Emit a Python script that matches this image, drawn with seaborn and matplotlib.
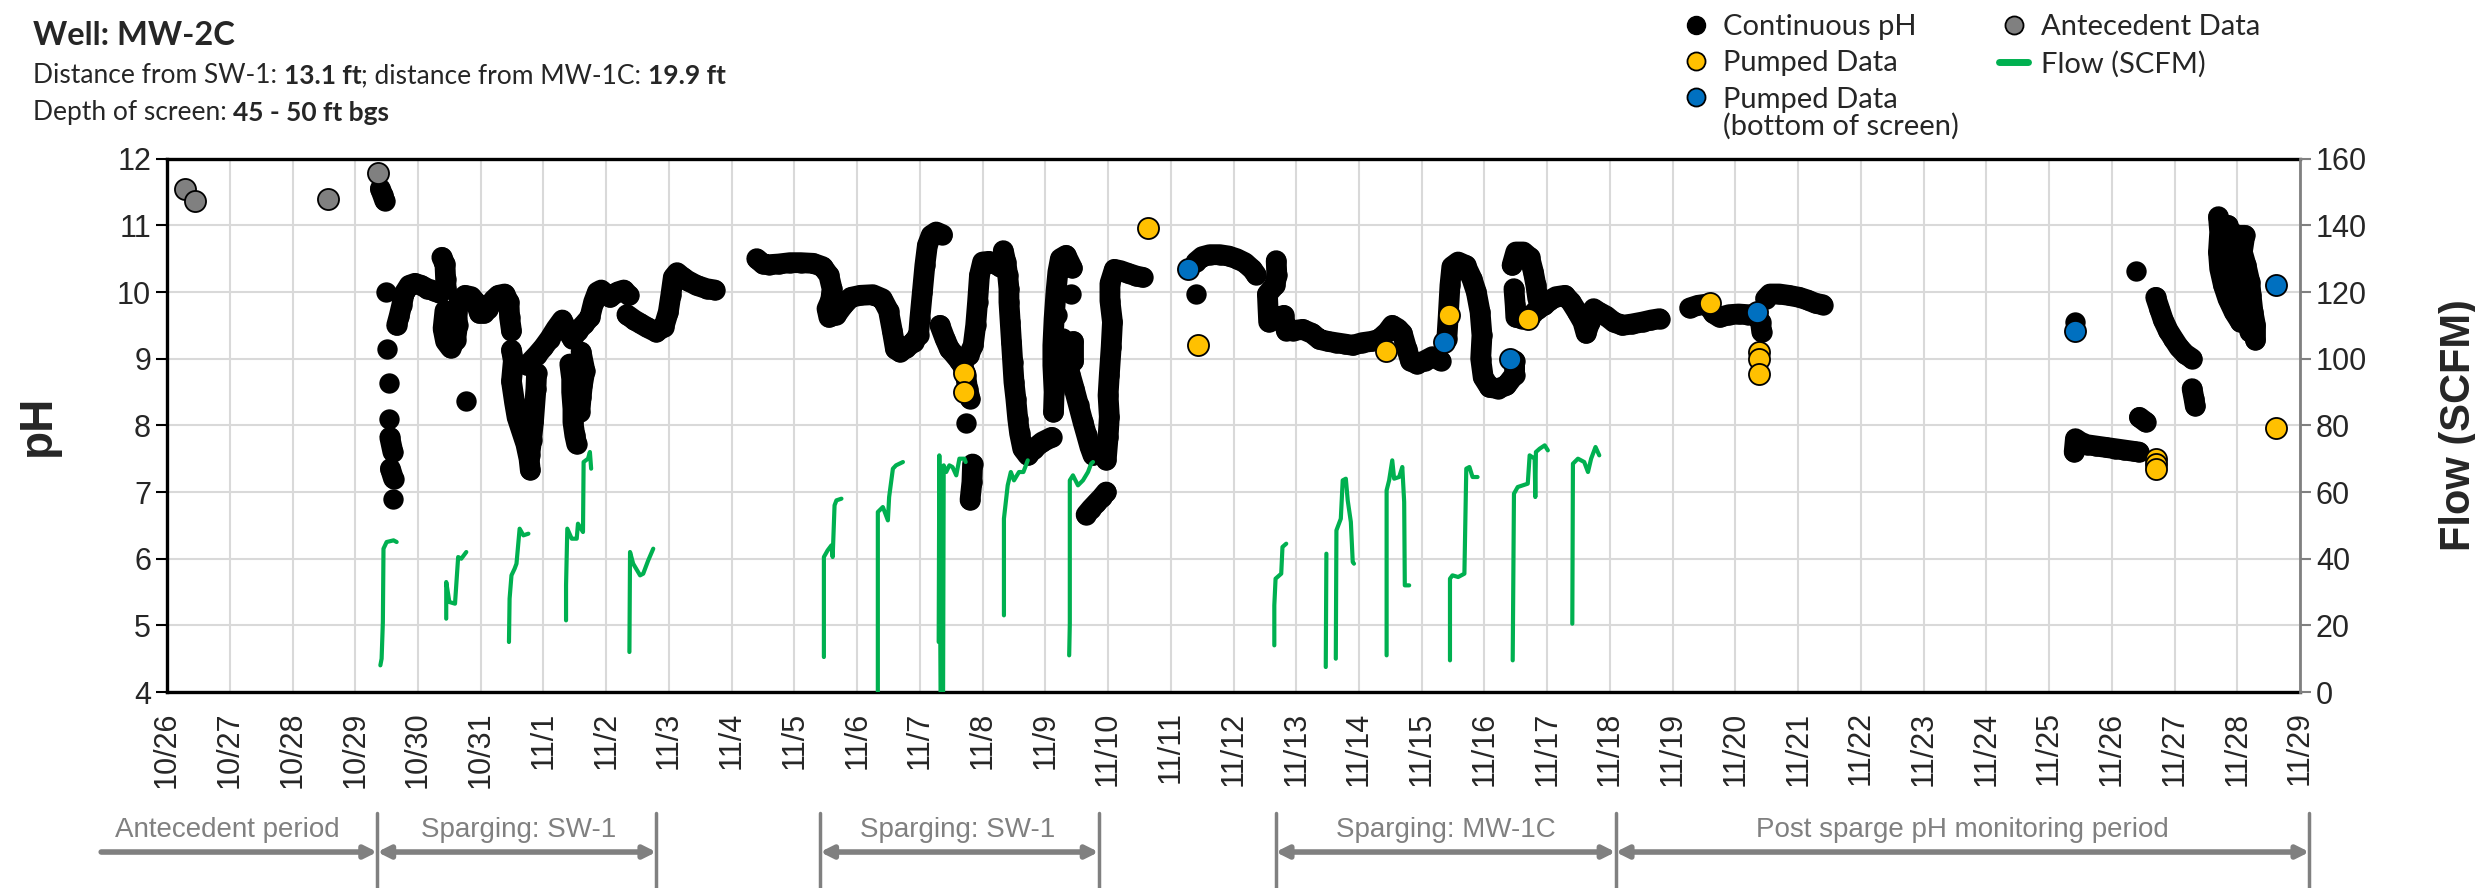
import numpy as np
import pandas as pd
import matplotlib
matplotlib.use("Agg")
import matplotlib.pyplot as plt
import matplotlib.dates as mdates
from matplotlib.lines import Line2D
from matplotlib.text import Annotation
from matplotlib.transforms import blended_transform_factory
import seaborn as sns

nan = np.nan
start = pd.Timestamp("2020-10-26")

# all x values are days after 10/26 00:00
ante_day = [0.29, 0.44, 2.57, 3.36]
ante_ph = [11.55, 11.36, 11.39, 11.78]

pump_day = [12.71, 12.71, 15.63, 16.44, 19.43, 20.43, 21.69, 24.60,
            25.38, 25.38, 25.38, 31.70, 31.70, 31.70, 33.62]
pump_ph = [8.79, 8.50, 10.96, 9.20, 9.12, 9.66, 9.60, 9.84,
           9.10, 9.00, 8.77, 7.50, 7.42, 7.34, 7.96]

bottom_day = [16.27, 20.36, 21.40, 25.35, 30.42, 33.61]
bottom_ph = [10.34, 9.25, 9.00, 9.70, 9.42, 10.10]

# continuous logger record, nan = gap in record
cont_day = [3.40, 3.44, 3.47, nan,
            3.49, nan, 3.50, nan, 3.53, nan, 3.54, nan, 3.55, 3.60, nan, 3.56, 3.61, nan, 3.60, nan,
            3.66, 3.70, 3.74, 3.78, 3.86, 3.95, 4.05, 4.15, 4.25, 4.35, nan,
            4.38, 4.43, 4.44, 4.45, nan,
            4.43, 4.40, 4.44, 4.52, 4.60, 4.63, 4.62, 4.66, 4.75, 4.85, 4.92, 4.98, 5.05, 5.12, 5.20, 5.28,
            5.38, 5.45, 5.46, 5.49, nan,
            4.77, nan,
            5.49, 5.52, 5.49, 5.54, 5.58, 5.65, 5.72, 5.77, 5.79, nan,
            5.89, 5.88, 5.84, 5.81, 5.78, nan,
            5.74, 5.82, 5.90, 6.00, 6.10, 6.20, 6.30, 6.38, 6.46, 6.55, 6.65, 6.74, 6.80, 6.86, 6.92, 7.06,
            7.18, 7.28, 7.36, nan,
            6.42, 6.45, 6.45, 6.47, 6.47, 6.50, 6.53, nan,
            6.60, 6.66, 6.62, 6.60, 6.58, nan,
            7.33, 7.45, 7.54, 7.65, 7.80, 7.92, 7.99, 8.03, 8.07, 8.13, 8.22, 8.30, 8.44, 8.60, 8.73, nan,
            9.40, 9.50, 9.60, 9.75, 9.93, 10.10, 10.30, 10.45, 10.55, 10.60, 10.58, 10.52, 10.55, 10.67,
            10.78, 10.90, 11.05, 11.25, 11.40, 11.50, 11.56, 11.61, 11.68, 11.78, 11.90, 11.98, 12.00,
            12.04, 12.08, 12.12, 12.18, 12.26, 12.36, nan,
            12.32, 12.40, 12.47, 12.56, 12.63, 12.68, 12.73, 12.76, 12.80, nan,
            12.73, nan,
            12.84, 12.83, 12.80, nan,
            12.66, 12.78, 12.85, 12.89, 12.92, 12.95, 13.00, 13.10, 13.20, 13.28, nan,
            13.33, 13.37, 13.40, 13.42, 13.42, 13.44, 13.46, 13.48, 13.50, 13.53, 13.56, 13.59, 13.64,
            13.72, 13.82, 13.95, 14.10, nan,
            14.13, 14.14, 14.12, 14.12, 14.14, 14.17, 14.20, 14.24, 14.33, 14.43, nan,
            14.41, nan, 14.19, nan,
            14.28, 14.33, 14.40, 14.46, 14.53, 14.60, 14.66, 14.71, 14.76, nan,
            14.44, 14.44, nan,
            14.97, 15.00, 15.02, 15.00, 15.02, 15.05, 15.07, 15.03, 15.03, 15.10, 15.20, 15.32, 15.45,
            15.55, nan,
            14.65, 14.73, 14.81, 14.90, 14.97, nan,
            16.40, nan,
            16.40, 16.50, 16.62, 16.78, 16.92, 17.05, 17.18, 17.30, 17.36, nan,
            17.68, 17.69, 17.66, 17.54, 17.55, 17.56, 17.68, 17.80, 17.84, 17.95, 18.10, 18.25, 18.37,
            18.50, 18.63, 18.77, 18.90, 19.05, 19.20, 19.32, 19.45, 19.53, 19.62, 19.69, 19.76, 19.82,
            19.92, 20.05, 20.17, 20.30, nan,
            20.40, 20.42, 20.45, 20.48, 20.58, 20.70, 20.80, 20.87, 20.93, 20.96, 20.94, 20.98, 21.08,
            21.22, 21.35, 21.48, 21.48, nan,
            21.44, 21.50, 21.62, 21.72, 21.78, 21.82, 21.85, nan,
            21.47, 21.49, 21.50, 21.60, 21.72, 21.85, 21.95, 22.05, 22.14, 22.28, 22.38, 22.48, 22.57,
            22.62, 22.68, 22.74, 22.82, 22.94, 23.06, 23.20, 23.35, 23.52, 23.66, 23.79, nan,
            24.27, 24.40, 24.55, 24.65, 24.75, 24.90, 25.05, 25.20, 25.33, 25.40, 25.42, nan,
            25.48, 25.55, 25.70, 25.85, 26.02, 26.15, 26.28, 26.39, nan,
            30.42, nan,
            30.40, 30.42, 30.50, 30.60, 30.75, 30.90, 31.05, 31.20, 31.35, 31.43, nan,
            31.44, 31.54, nan,
            31.39, nan,
            31.70, 31.76, 31.82, 31.90, 31.98, 32.07, 32.17, 32.28, nan,
            32.28, 32.31, 32.33, nan,
            32.70, 32.72, 32.70, 32.72, 32.78, 32.85, 32.95, 33.05, nan,
            32.90, 33.00, 33.12, 33.08, 33.14, 33.20, 33.22, 33.25, 33.29, 33.29, nan,
            32.78, 32.90, 32.98, 33.05, 33.10, 33.15, 33.20, nan,
            32.85, 32.95, 33.05, 33.15]
cont_ph = [11.55, 11.45, 11.37, nan,
           10.00, nan, 9.14, nan, 8.63, nan, 8.10, nan, 7.82, 7.60, nan, 7.35, 7.20, nan, 6.89, nan,
           9.50, 9.64, 9.80, 9.98, 10.10, 10.13, 10.10, 10.05, 10.02, 9.98, nan,
           10.52, 10.42, 10.20, 10.05, nan,
           9.72, 9.45, 9.26, 9.16, 9.28, 9.50, 9.70, 9.87, 9.95, 9.93, 9.85, 9.68, 9.68, 9.75, 9.88, 9.95,
           9.97, 9.85, 9.62, 9.42, nan,
           8.37, nan,
           9.13, 8.97, 8.66, 8.34, 8.12, 7.92, 7.72, 7.50, 7.33, nan,
           8.78, 8.55, 8.05, 7.78, 7.55, nan,
           8.90, 8.98, 9.06, 9.17, 9.30, 9.45, 9.58, 9.42, 9.30, 9.42, 9.52, 9.62, 9.85, 10.00, 10.03, 9.92,
           10.00, 10.03, 9.95, nan,
           8.92, 8.70, 8.50, 8.25, 8.05, 7.85, 7.72, nan,
           9.10, 8.82, 8.60, 8.42, 8.20, nan,
           9.66, 9.58, 9.53, 9.47, 9.40, 9.48, 9.70, 9.95, 10.22, 10.29, 10.22, 10.17, 10.10, 10.05, 10.03, nan,
           10.50, 10.42, 10.41, 10.42, 10.44, 10.44, 10.43, 10.38, 10.25, 10.05, 9.88, 9.75, 9.62, 9.66,
           9.80, 9.92, 9.95, 9.96, 9.90, 9.72, 9.42, 9.15, 9.10, 9.16, 9.25, 9.36, 9.60,
           10.00, 10.40, 10.70, 10.85, 10.90, 10.86, nan,
           9.50, 9.30, 9.15, 9.05, 8.97, 8.90, 8.75, 8.55, 8.40, nan,
           8.03, nan,
           7.42, 7.15, 6.88, nan,
           8.95, 9.05, 9.20, 9.50, 9.85, 10.25, 10.45, 10.46, 10.42, 10.38, nan,
           10.62, 10.45, 10.25, 10.05, 9.85, 9.55, 9.25, 8.95, 8.65, 8.40, 8.10, 7.88, 7.65,
           7.55, 7.65, 7.75, 7.82, nan,
           8.20, 8.50, 8.90, 9.20, 9.60, 10.00, 10.30, 10.50, 10.55, 10.36, nan,
           9.97, nan, 9.66, nan,
           9.30, 9.00, 8.75, 8.55, 8.30, 8.05, 7.85, 7.68, 7.55, nan,
           9.26, 8.97, nan,
           7.48, 7.82, 8.13, 8.45, 8.76, 9.18, 9.55, 9.87, 10.13, 10.34, 10.32, 10.28, 10.24,
           10.22, nan,
           6.66, 6.75, 6.83, 6.92, 7.00, nan,
           9.97, nan,
           10.45, 10.53, 10.56, 10.56, 10.54, 10.50, 10.44, 10.34, 10.26, nan,
           10.47, 10.25, 10.10, 9.97, 9.75, 9.55, 9.60, 9.65, 9.42, 9.42, 9.44, 9.38, 9.29,
           9.26, 9.24, 9.22, 9.20, 9.24, 9.26, 9.29, 9.40, 9.50, 9.45, 9.38, 9.15, 8.97,
           8.92, 8.97, 9.03, 8.97, nan,
           9.30, 9.60, 10.10, 10.38, 10.45, 10.40, 10.20, 10.00, 9.70, 9.35, 9.00, 8.72, 8.57,
           8.55, 8.60, 8.76, 8.97, nan,
           10.40, 10.60, 10.60, 10.52, 10.30, 10.10, 9.90, nan,
           10.05, 9.80, 9.62, 9.60, 9.62, 9.75, 9.80, 9.88, 9.93, 9.95, 9.85, 9.70, 9.55,
           9.38, 9.55, 9.75, 9.70, 9.64, 9.55, 9.50, 9.52, 9.55, 9.58, 9.60, nan,
           9.76, 9.80, 9.82, 9.68, 9.62, 9.66, 9.67, 9.66, 9.66, 9.55, 9.40, nan,
           9.90, 9.97, 9.97, 9.95, 9.92, 9.88, 9.83, 9.81, nan,
           9.55, nan,
           7.60, 7.80, 7.75, 7.71, 7.69, 7.67, 7.65, 7.63, 7.61, 7.60, nan,
           8.12, 8.05, nan,
           10.31, nan,
           9.92, 9.75, 9.58, 9.42, 9.30, 9.17, 9.07, 9.00, nan,
           8.55, 8.40, 8.29, nan,
           11.13, 10.90, 10.60, 10.35, 10.10, 9.90, 9.70, 9.55, nan,
           10.90, 10.85, 10.85, 10.60, 10.40, 10.15, 9.95, 9.70, 9.50, 9.28, nan,
           10.65, 10.40, 10.20, 10.00, 9.80, 9.60, 9.40, nan,
           11.00, 10.70, 10.45, 10.25]

# air sparge flow, SCFM
flow_day = [3.40, 3.42, 3.44, 3.45, 3.50, 3.61, 3.66, nan,
            4.45, 4.45, 4.50, 4.59, 4.64, 4.69, 4.77, nan,
            5.45, 5.46, 5.49, 5.54, 5.57, 5.62, 5.68, 5.76, nan,
            6.36, 6.36, 6.38, 6.45, 6.53, 6.55, 6.63, 6.64, 6.71, 6.74, 6.76, nan,
            7.37, 7.38, 7.43, 7.54, 7.59, 7.67, 7.75, nan,
            10.47, 10.47, 10.53, 10.59, 10.61, 10.64, 10.67, 10.75, nan,
            11.33, 11.33, 11.41, 11.49, 11.51, 11.57, 11.62, 11.73, nan,
            12.30, 12.31, 12.33, 12.37, 12.38, 12.42, 12.47, 12.52, 12.58, 12.63, 12.71, 12.73, nan,
            13.34, 13.34, 13.40, 13.45, 13.50, 13.58, 13.65, 13.72, nan,
            14.38, 14.39, 14.39, 14.44, 14.52, 14.60, 14.68, 14.73, 14.76, nan,
            17.65, 17.65, 17.67, 17.76, 17.78, 17.84, nan,
            18.47, 18.48, nan,
            18.63, 18.64, 18.71, 18.74, 18.79, 18.82, 18.87, 18.90, 18.92, nan,
            19.44, 19.44, 19.48, 19.53, 19.56, 19.64, 19.69, 19.72, 19.73, 19.80, nan,
            20.45, 20.45, 20.49, 20.58, 20.68, 20.71, 20.76, 20.81, 20.89, nan,
            21.45, 21.47, 21.53, 21.69, 21.72, 21.80, 21.81, 21.82, 21.88, 21.96, 22.01, nan,
            22.40, 22.41, 22.49, 22.59, 22.65, 22.70, 22.77, 22.83]
flow_cfm = [8, 10, 21, 43, 45, 45.5, 45, nan,
            22, 33, 27, 26.5, 40.5, 40, 42, nan,
            15, 28, 35, 37, 38.5, 49, 47, 47.5, nan,
            21.5, 32, 49, 46, 46, 50.5, 48, 69, 70, 72, 67, nan,
            12, 42, 38.5, 35, 35.5, 39.5, 43, nan,
            10.5, 40.5, 42.5, 44, 40.5, 56, 57.5, 58, nan,
            0, 54, 55.5, 51.5, 58.5, 67, 68, 69, nan,
            15, 71, 0, 0, 68, 66, 68, 67.5, 65, 70, 70, 69, nan,
            23, 52, 62, 66, 63.5, 66, 66, 69.5, nan,
            11, 20.5, 63.5, 65, 62, 63.5, 66, 68.5, 69, nan,
            14, 26, 34, 35.5, 43.5, 44.5, nan,
            7.5, 41.5, nan,
            10, 48.5, 52, 63.5, 64, 57.5, 51, 39, 38.5, nan,
            11, 60.5, 63.5, 69.5, 64, 64.5, 67.5, 57, 32, 32, nan,
            9.5, 34, 35, 34.5, 35.5, 67, 67.5, 64.5, 64.5, nan,
            9.5, 59.5, 61.5, 62.5, 71, 70, 58.5, 72, 73, 74, 72.5, nan,
            20.5, 68.5, 70, 69, 66, 70, 73.5, 71]

period_label = ["Antecedent period", "Sparging: SW-1", "Sparging: SW-1",
                "Sparging: MW-1C", "Post sparge pH monitoring period"]
period_start = [-1.05, 3.35, 10.41, 17.67, 23.09]
period_end = [3.35, 7.80, 14.85, 23.09, 34.15]
label_x = [0.96, 5.60, 12.60, 20.38, 28.62]


def to_frame(day, val, name):
    d = pd.DataFrame({"day": day, name: val})
    d["seg"] = d["day"].isna().cumsum()
    d = d.dropna()
    d["t"] = start + pd.to_timedelta(d["day"], unit="D")
    return d


cont = to_frame(cont_day, cont_ph, "ph")
flow = to_frame(flow_day, flow_cfm, "cfm")
ante = to_frame(ante_day, ante_ph, "ph")
pump = to_frame(pump_day, pump_ph, "ph")
bott = to_frame(bottom_day, bottom_ph, "ph")

sns.set_style("white")
plt.rcParams["font.family"] = ["Liberation Sans", "DejaVu Sans"]

BLACK = "black"
YELLOW = "#FFC000"
BLUE = "#0070C0"
GREY = "#808080"
GREEN = "#00B050"

fig = plt.figure(figsize=(24.75, 8.88), dpi=100)
ax = fig.add_axes([0.0675, 0.2207, 0.8618, 0.6006])
ax2 = ax.twinx()

ax.grid(True, color="#D9D9D9", lw=1.5)
ax.set_axisbelow(True)

sns.lineplot(data=cont, x="t", y="ph", units="seg", estimator=None, sort=False,
             color=BLACK, lw=15, solid_capstyle="round", solid_joinstyle="round", ax=ax)
sns.scatterplot(data=cont, x="t", y="ph", color=BLACK, s=215, linewidth=0, ax=ax, zorder=3)
sns.scatterplot(data=ante, x="t", y="ph", color=GREY, s=230, edgecolor=BLACK, linewidth=1.3, ax=ax, zorder=4)
sns.scatterplot(data=pump, x="t", y="ph", color=YELLOW, s=230, edgecolor=BLACK, linewidth=1.3, ax=ax, zorder=5)
sns.scatterplot(data=bott, x="t", y="ph", color=BLUE, s=230, edgecolor=BLACK, linewidth=1.3, ax=ax, zorder=5)

sns.lineplot(data=flow, x="t", y="cfm", units="seg", estimator=None, sort=False,
             color=GREEN, lw=3, ax=ax2)

x0 = start
x1 = start + pd.Timedelta(days=34)
ax.set_xlim(x0, x1)
ax.set_ylim(4, 12)
ax2.set_ylim(0, 160)
ax.set_yticks(range(4, 13))
ax2.set_yticks(range(0, 161, 20))
ax.xaxis.set_major_locator(mdates.DayLocator())
ax.xaxis.set_major_formatter(mdates.DateFormatter("%-m/%-d"))
ax.tick_params(axis="x", rotation=90, labelsize=22, length=8, width=1.5, color=BLACK, pad=6)
ax.tick_params(axis="y", labelsize=22, length=8, width=1.5, color=BLACK, left=True)
ax2.tick_params(axis="y", labelsize=22, length=8, width=1.5, color=GREY, right=True)

ax.set_xlabel("")
ax.set_ylabel("pH", fontsize=33, fontweight="bold")
ax.yaxis.set_label_coords(-0.050, 0.5)
ax2.set_ylabel("Flow (SCFM)", fontsize=30, fontweight="bold")
ax2.yaxis.set_label_coords(1.065, 0.5)
ax2.set_xlabel("")

for side in ["left", "bottom", "top"]:
    ax.spines[side].set_color(BLACK)
    ax.spines[side].set_linewidth(2.4)
    ax2.spines[side].set_visible(False)
ax.spines["right"].set_visible(False)
ax2.spines["right"].set_color(GREY)
ax2.spines["right"].set_linewidth(2)

# period arrows below the date labels
tr = blended_transform_factory(ax.transData, ax.transAxes)
base = mdates.date2num(start)
edges = sorted(set(period_start[1:] + period_end))
for e in edges:
    ax.add_line(Line2D([base + e, base + e], [-0.227, -0.368], transform=tr,
                       color=GREY, lw=2.5, clip_on=False))
for i, (lab, a, b, cx) in enumerate(zip(period_label, period_start, period_end, label_x)):
    style = "-|>" if i == 0 else "<|-|>"
    ax.annotate("", xy=(base + b, -0.300), xytext=(base + a, -0.300), xycoords=tr, textcoords=tr,
                arrowprops=dict(arrowstyle=style, color=GREY, lw=4, mutation_scale=18,
                                shrinkA=0, shrinkB=0), annotation_clip=False)
    ax.text(base + cx, -0.259, lab, transform=tr, ha="center", va="center",
            fontsize=20, color=GREY)

# header
hdr = ["Lato", "DejaVu Sans"]
fig.text(0.0133, 1 - 45 / 888, "Well: MW-2C", fontsize=23.5, fontweight="bold", family=hdr, va="baseline")


def rich(y, parts):
    prev = fig.text(0.0133, y, parts[0][0], fontsize=19, fontweight=parts[0][1], family=hdr, va="baseline")
    for s, w in parts[1:]:
        prev = ax.annotate(s, xy=(1, 0), xycoords=prev, va="bottom", ha="left",
                           fontsize=19, fontweight=w, family=hdr, annotation_clip=False)


rich(1 - 83 / 888, [("Distance from SW-1: ", "normal"), ("13.1 ft", "bold"),
                    ("; distance from MW-1C: ", "normal"), ("19.9 ft", "bold")])
rich(1 - 120 / 888, [("Depth of screen: ", "normal"), ("45 - 50 ft bgs", "bold")])

handles = [
    Line2D([], [], ls="", marker="o", ms=13, mfc=BLACK, mec=BLACK),
    Line2D([], [], ls="", marker="o", ms=13, mfc=YELLOW, mec=BLACK, mew=1.3),
    Line2D([], [], ls="", marker="o", ms=13, mfc=BLUE, mec=BLACK, mew=1.3),
    Line2D([], [], ls="", marker="o", ms=13, mfc=GREY, mec=BLACK, mew=1.3),
    Line2D([], [], color=GREEN, lw=5),
]
labels = ["Continuous pH", "Pumped Data", "Pumped Data",
          "Antecedent Data", "Flow (SCFM)"]
leg = fig.legend(handles, labels, loc="upper left", bbox_to_anchor=(0.671, 1.007), ncol=2,
                 frameon=False, prop={"family": hdr, "size": 21}, handlelength=1.0,
                 handletextpad=0.42, columnspacing=2.85, labelspacing=0.35, borderpad=0.2)
# second line of the third legend entry sits under its label
note = Annotation("(bottom of screen)", xy=(0, 0), xycoords=leg.get_texts()[2], va="top", ha="left",
                  fontsize=21, family=hdr, annotation_clip=False)
note.set_zorder(20)
fig.add_artist(note)

fig.canvas.draw()
fig.savefig("out.png", dpi=100)
